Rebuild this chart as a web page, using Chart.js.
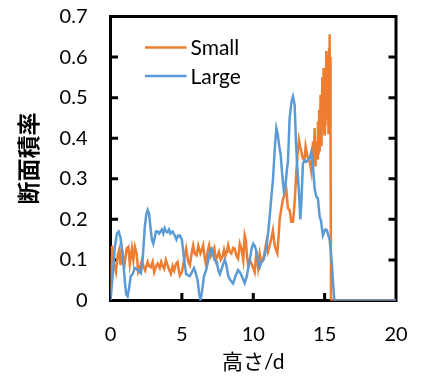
<!DOCTYPE html>
<html><head><meta charset="utf-8">
<script src="https://cdn.jsdelivr.net/npm/chart.js@4.4.1/dist/chart.umd.min.js"></script>
<style>html,body{margin:0;padding:0;background:#fff}#wrap{width:442px;height:381px;position:relative}</style>
</head><body><div id="wrap"><canvas id="c" width="442" height="381"></canvas></div>
<script>
const seriesNames = ['Small', 'Large'];
const seriesColors = ['#ED7D31', '#5B9BD5'];

const smallX = [0,0.1,0.25,0.38,0.5,0.6,0.7,0.8,0.97,1.13,1.25,1.35,1.5,1.6,1.71,1.83,1.94,2.05,2.2,2.3,2.43,2.6,2.7,2.83,2.95,3.06,3.2,3.3,3.45,3.55,3.65,3.76,3.88,4.0,4.12,4.23,4.35,4.46,4.58,4.7,4.78,4.86,5.0,5.15,5.3,5.45,5.56,5.7,5.79,5.9,6.03,6.15,6.3,6.4,6.49,6.6,6.68,6.8,6.91,7.03,7.15,7.27,7.38,7.5,7.6,7.72,7.84,7.95,8.05,8.15,8.24,8.35,8.47,8.6,8.7,8.82,8.94,9.06,9.17,9.3,9.4,9.48,9.56,9.64,9.75,9.87,10.0,10.1,10.22,10.34,10.45,10.57,10.69,10.8,10.92,11.03,11.15,11.25,11.38,11.5,11.6,11.69,11.78,11.85,11.97,12.08,12.2,12.32,12.43,12.55,12.67,12.78,12.85,12.95,13.02,13.13,13.2,13.28,13.37,13.47,13.55,13.6,13.67,13.8,13.95,14.07,14.13,14.18,14.24,14.3,14.36,14.42,14.48,14.53,14.58,14.62,14.65,14.72,14.78,14.84,14.88,14.93,14.98,15.02,15.06,15.12,15.17,15.23,15.27,15.31,15.35,15.38,15.4,15.43,15.45,16,20];
const smallY = [0.02,0.135,0.09,0.07,0.11,0.124,0.087,0.128,0.085,0.128,0.132,0.09,0.128,0.1,0.132,0.116,0.07,0.08,0.099,0.085,0.074,0.095,0.085,0.082,0.095,0.07,0.085,0.091,0.08,0.095,0.085,0.078,0.1,0.087,0.075,0.066,0.085,0.074,0.09,0.095,0.075,0.062,0.07,0.1,0.128,0.095,0.087,0.12,0.136,0.115,0.111,0.135,0.116,0.125,0.136,0.105,0.091,0.12,0.136,0.11,0.12,0.13,0.099,0.11,0.12,0.1,0.107,0.125,0.11,0.12,0.136,0.12,0.116,0.13,0.128,0.11,0.103,0.14,0.128,0.099,0.161,0.15,0.11,0.087,0.1,0.091,0.08,0.07,0.12,0.082,0.116,0.095,0.099,0.12,0.144,0.12,0.136,0.15,0.173,0.136,0.124,0.116,0.16,0.2,0.227,0.25,0.26,0.272,0.227,0.223,0.194,0.194,0.219,0.27,0.32,0.371,0.396,0.38,0.367,0.35,0.347,0.35,0.38,0.355,0.342,0.318,0.36,0.392,0.34,0.425,0.33,0.392,0.35,0.441,0.36,0.47,0.367,0.507,0.38,0.55,0.42,0.573,0.41,0.54,0.43,0.615,0.45,0.58,0.41,0.62,0.656,0.45,0.6,0.4,0,0,0];

const largeX = [0,0.15,0.3,0.45,0.57,0.7,0.85,1.0,1.1,1.2,1.3,1.42,1.55,1.7,1.9,2.05,2.13,2.25,2.4,2.5,2.6,2.7,2.8,2.9,3.0,3.1,3.18,3.3,3.4,3.5,3.6,3.7,3.8,3.9,4.0,4.1,4.2,4.35,4.5,4.62,4.74,4.86,5.0,5.1,5.2,5.3,5.45,5.56,5.7,5.85,5.95,6.1,6.2,6.3,6.4,6.55,6.7,6.85,7.0,7.07,7.2,7.3,7.45,7.55,7.66,7.8,8.0,8.1,8.25,8.4,8.59,8.75,8.94,9.06,9.2,9.4,9.55,9.75,9.9,10.0,10.1,10.2,10.34,10.45,10.57,10.69,10.8,10.92,11.05,11.15,11.28,11.38,11.5,11.62,11.72,11.82,11.92,12.03,12.15,12.25,12.35,12.43,12.55,12.68,12.78,12.9,13.0,13.1,13.2,13.3,13.38,13.48,13.6,13.72,13.83,13.95,14.07,14.18,14.3,14.42,14.53,14.65,14.74,14.88,14.98,15.06,15.16,15.25,15.35,15.49,15.6,15.68,20];
const largeY = [0,0.06,0.13,0.165,0.17,0.155,0.11,0.05,0.015,0.01,0.03,0.06,0.065,0.08,0.075,0.07,0.067,0.1,0.18,0.21,0.223,0.215,0.18,0.15,0.14,0.155,0.17,0.17,0.165,0.17,0.175,0.165,0.178,0.17,0.168,0.175,0.165,0.17,0.16,0.15,0.16,0.16,0.15,0.12,0.09,0.065,0.062,0.06,0.07,0.08,0.07,0.05,0.02,0,0.02,0.06,0.075,0.1,0.125,0.128,0.11,0.099,0.095,0.075,0.065,0.08,0.1,0.09,0.06,0.05,0.042,0.06,0.075,0.07,0.06,0.043,0.06,0.1,0.13,0.14,0.135,0.124,0.095,0.082,0.095,0.099,0.11,0.132,0.17,0.206,0.26,0.297,0.37,0.425,0.41,0.38,0.36,0.31,0.268,0.28,0.32,0.342,0.45,0.49,0.503,0.483,0.384,0.32,0.268,0.2,0.25,0.338,0.345,0.342,0.347,0.35,0.367,0.334,0.276,0.256,0.252,0.206,0.198,0.161,0.17,0.175,0.173,0.162,0.15,0.099,0.04,0,0];

const xTickValues = [0, 5, 10, 15, 20];
const xTickLabels = ['0', '5', '10', '15', '20'];
const yTickValues = [0, 0.1, 0.2, 0.3, 0.4, 0.5, 0.6, 0.7];
const yTickLabels = ['0', '0.1', '0.2', '0.3', '0.4', '0.5', '0.6', '0.7'];
const xTitle = '高さ/d';
const yTitle = '断面積率';

const LATIN = "Lato, 'Noto Sans CJK JP', sans-serif";

function toPoints(xs, ys) { return xs.map((x, i) => ({x: x, y: ys[i]})); }

const framePlugin = {
  id: 'boxframe',
  beforeDatasetsDraw(chart) {
    const a = chart.chartArea;
    const ctx = chart.ctx;
    const xs = chart.scales.x, ys = chart.scales.y;
    ctx.save();
    ctx.strokeStyle = '#000';
    ctx.lineWidth = 3;
    ctx.strokeRect(a.left, a.top, a.right - a.left, a.bottom - a.top);
    ctx.beginPath();
    for (let i = 1; i < yTickValues.length - 1; i++) {
      const py = ys.getPixelForValue(yTickValues[i]);
      ctx.moveTo(a.left, py); ctx.lineTo(a.left + 7.5, py);
      ctx.moveTo(a.right, py); ctx.lineTo(a.right - 7.5, py);
    }
    for (let i = 1; i < xTickValues.length - 1; i++) {
      const px = xs.getPixelForValue(xTickValues[i]);
      ctx.moveTo(px, a.bottom); ctx.lineTo(px, a.bottom - 7.5);
    }
    ctx.stroke();
    ctx.restore();
  }
};

const legendPlugin = {
  id: 'inlegend',
  afterDatasetsDraw(chart) {
    const a = chart.chartArea;
    const ctx = chart.ctx;
    ctx.save();
    ctx.font = "21px " + LATIN;
    ctx.textBaseline = 'middle';
    ctx.textAlign = 'left';
    chart.data.datasets.forEach((ds, i) => {
      const yy = a.top + 31 + i * 28.5;
      ctx.strokeStyle = ds.borderColor;
      ctx.lineWidth = 2.5;
      ctx.beginPath();
      ctx.moveTo(a.left + 34.5, yy); ctx.lineTo(a.left + 76, yy);
      ctx.stroke();
      ctx.fillStyle = '#000';
      ctx.fillText(ds.label, a.left + 80, yy + 1);
    });
    ctx.restore();
  }
};

new Chart(document.getElementById('c'), {
  type: 'line',
  data: {
    datasets: [
      {label: seriesNames[0], data: toPoints(smallX, smallY), borderColor: seriesColors[0], backgroundColor: seriesColors[0], borderWidth: 2.5, pointRadius: 0, tension: 0, fill: false, order: 1},
      {label: seriesNames[1], data: toPoints(largeX, largeY), borderColor: seriesColors[1], backgroundColor: seriesColors[1], borderWidth: 2.5, pointRadius: 0, tension: 0, fill: false, order: 0}
    ]
  },
  options: {
    responsive: false,
    animation: false,
    devicePixelRatio: 1,
    layout: {padding: {top: 16.5, right: 46, left: 0, bottom: 0}},
    plugins: {legend: {display: false}, tooltip: {enabled: false}},
    scales: {
      x: {
        type: 'linear', min: 0, max: 20,
        afterBuildTicks: s => { s.ticks = xTickValues.map(v => ({value: v})); },
        afterFit: s => { s.height = 80.5; s.paddingLeft = 0; s.paddingRight = 0; },
        grid: {display: false, drawTicks: false},
        border: {display: false},
        ticks: {color: '#000', font: {family: LATIN, size: 20}, padding: 22, maxRotation: 0, autoSkip: false,
          callback: (v) => xTickLabels[xTickValues.indexOf(v)]},
        title: {display: true, text: xTitle, color: '#000', font: {family: LATIN, size: 21}, padding: {top: 0, bottom: 6}}
      },
      y: {
        type: 'linear', min: 0, max: 0.7,
        afterBuildTicks: s => { s.ticks = yTickValues.map(v => ({value: v})); },
        afterFit: s => { s.width = 110.5; s.paddingTop = 0; s.paddingBottom = 0; },
        grid: {display: false, drawTicks: false},
        border: {display: false},
        ticks: {color: '#000', font: {family: LATIN, size: 20}, padding: 23, autoSkip: false,
          callback: (v) => { const i = yTickValues.findIndex(t => Math.abs(t - v) < 1e-9); return yTickLabels[i]; }},
        title: {display: true, text: yTitle, color: '#000', font: {family: "'Noto Sans CJK JP', sans-serif", size: 23, weight: 'bold'}, padding: {top: 14.7, bottom: 0}}
      }
    }
  },
  plugins: [framePlugin, legendPlugin]
});
</script>
</body></html>
